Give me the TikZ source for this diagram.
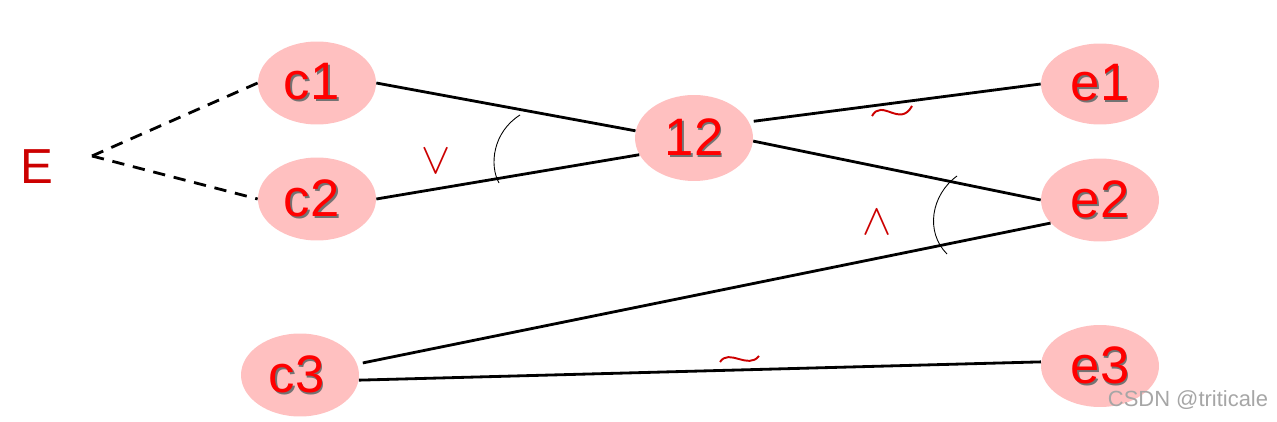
\documentclass[tikz,border=0pt]{standalone}
\usepackage{fontspec}
\setmainfont{Liberation Sans}
\usetikzlibrary{shapes.geometric}
\definecolor{pinkfill}{RGB}{255,192,192}
\definecolor{txtred}{RGB}{255,0,0}
\definecolor{ered}{RGB}{204,0,0}
\newcommand{\shtext}[1]{\makebox[0pt][l]{\hspace{1pt}\raisebox{-1pt}{\color{black!55}#1}}{\color{txtred}#1}}
\tikzset{
  blob/.style={ellipse, fill=pinkfill, draw=none, minimum width=2.36cm, minimum height=1.66cm, inner sep=0pt,
    font=\fontsize{30}{30}\selectfont},
  link/.style={line width=1.6pt, black},
  dlink/.style={line width=1.6pt, black, dashed, dash pattern=on 7pt off 5pt},
  anglearc/.style={line width=0.5pt, black},
  rel/.style={text=ered, font=\fontsize{27}{27}\selectfont, inner sep=0pt},
  wave/.style={line width=1.1pt, ered}
}
\begin{document}
\begin{tikzpicture}[x=0.02cm,y=-0.02cm]
\useasboundingbox (0,0) rectangle (1277,422);
\node[blob] (c1) at (317,83) {\hspace{-6pt}\shtext{c1}};
\node[blob] (c2) at (317,199) {\hspace{-6pt}\shtext{c2}};
\node[blob, minimum height=1.72cm] (n12) at (694,138) {\shtext{12}};
\node[blob, minimum height=1.62cm] (e1) at (1100,84) {\shtext{e1}};
\node[blob] (e2) at (1100,200) {\shtext{e2}};
\node[blob] (c3) at (300,375) {\hspace{-4pt}\shtext{c3}};
\node[blob, minimum height=1.64cm] (e3) at (1100,366) {\shtext{e3}};
\node[text=ered, font=\fontsize{28}{28}\selectfont, inner sep=0pt] (E) at (37,167) {E};
\coordinate (Ej) at (92,156);
% connectors
\draw[dlink] (Ej) -- (c1.west);
\draw[dlink] (Ej) -- (c2.west);
\draw[link] (c1.east) -- (n12.173);
\draw[link] (c2.east) -- (n12.197);
\draw[link] ([xshift=0.1cm]n12.17) -- (e1.west);
\draw[link] (n12.-3) -- (e2.west);
\draw[link] (e2.205) -- ([xshift=0.12cm]c3.12);
\draw[link] (c3.-5) -- (e3.176);
% angle arcs
\draw[anglearc] (520,115) .. controls (493,132) and (489,165) .. (499,183);
\draw[anglearc] (957,176) .. controls (931,195) and (925,232) .. (947,254);
% relation marks
\node[rel] (vee) at (436,161) {$\vee$};
\node[rel] (wedge) at (877,222) {$\wedge$};
\draw[wave] (872,116) .. controls (882,98) and (900,128) .. (912,106);
\draw[wave] (720,362) .. controls (729,348) and (748,370) .. (759,356);
\node[text=black!35, font=\fontsize{12.5}{13}\selectfont, inner sep=0pt] (wm) at (1188,400) {CSDN @triticale};
\end{tikzpicture}
\end{document}
